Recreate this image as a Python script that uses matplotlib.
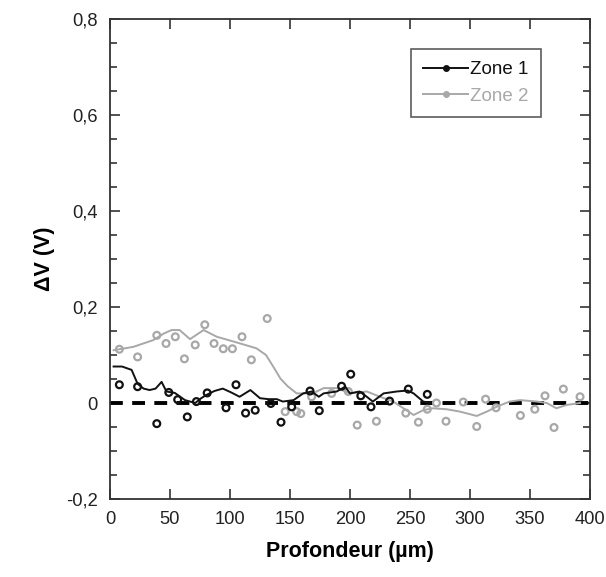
import matplotlib
matplotlib.use("Agg")
import matplotlib.pyplot as plt
from matplotlib.lines import Line2D
from matplotlib.ticker import MultipleLocator, FuncFormatter

plt.rcParams['font.family'] = ['Liberation Sans', 'DejaVu Sans']

# Smoothed curves
z1_line_x = [3, 10, 18, 23, 28, 33, 38, 43, 47, 54, 62.5, 71, 76, 80.5, 87, 94, 101, 108, 117, 125,
             132, 139, 144, 153, 161, 168, 174, 178, 189, 196, 200, 208, 214, 219, 228, 239, 248, 253, 261, 267]
z1_line_y = [0.076, 0.076, 0.069, 0.040, 0.030, 0.027, 0.030, 0.044, 0.024, 0.021, 0.006, 0.000, 0.010,
             0.017, 0.025, 0.030, 0.022, 0.013, 0.027, 0.010, 0.008, 0.008, 0.003, 0.006, 0.020, 0.024,
             0.013, 0.020, 0.024, 0.034, 0.020, 0.024, 0.013, 0.003, 0.020, 0.024, 0.026, 0.020, 0.003, 0.000]

z2_line_x = [3, 19.5, 36, 45, 51.4, 58, 66.7, 72, 78, 89, 103, 122, 130, 136, 142, 148, 155.6, 169, 178,
             189, 200, 214, 225, 236, 247, 253, 261, 269, 280.6, 291.7, 305.6, 314, 322, 333, 341.7, 355.6,
             364, 372, 380.6, 391.7]
z2_line_y = [0.110, 0.117, 0.131, 0.145, 0.152, 0.152, 0.133, 0.142, 0.152, 0.138, 0.128, 0.114, 0.100,
             0.076, 0.051, 0.035, 0.020, 0.020, 0.031, 0.031, 0.020, 0.024, 0.013, 0.003, -0.015, -0.025,
             -0.015, -0.011, -0.013, -0.018, -0.027, -0.018, -0.008, 0.003, 0.006, 0.003, 0.000, -0.011,
             -0.004, 0.000]

# Measured points
z1_pts_x = [7.8, 23, 39, 49, 56.4, 64.4, 72, 81, 96.7, 105, 113, 121, 134, 142.5, 151.4, 166.7, 174.4,
            193, 200.6, 209, 217.5, 233, 248.6, 264.4]
z1_pts_y = [0.038, 0.034, -0.043, 0.022, 0.007, -0.029, 0.003, 0.021, -0.010, 0.038, -0.021, -0.015,
            -0.001, -0.040, -0.008, 0.025, -0.016, 0.035, 0.060, 0.015, -0.008, 0.004, 0.029, 0.018]

z2_pts_x = [7.8, 23, 39, 46.7, 54.4, 62, 71, 79, 86.7, 94.4, 102, 110, 117.8, 131, 146, 155.6, 159, 168,
            184.7, 198.6, 206, 222, 246.5, 257, 264.4, 272, 280, 294.4, 305.6, 313, 321.7, 342, 354,
            362.5, 370, 377.8, 391.7]
z2_pts_y = [0.112, 0.096, 0.141, 0.124, 0.138, 0.092, 0.121, 0.163, 0.124, 0.113, 0.113, 0.138, 0.090,
            0.176, -0.018, -0.018, -0.022, 0.013, 0.020, 0.024, -0.046, -0.038, -0.021, -0.040, -0.013,
            0.000, -0.038, 0.002, -0.049, 0.008, -0.010, -0.026, -0.013, 0.015, -0.051, 0.029, 0.013]

series_labels = ["Zone 1", "Zone 2"]
x_ticks = [0, 50, 100, 150, 200, 250, 300, 350, 400]
y_ticks = [-0.2, 0, 0.2, 0.4, 0.6, 0.8]

black = "#111111"
gray = "#a8a8a8"

fig = plt.figure(figsize=(6.06, 5.77), dpi=100)
ax = fig.add_axes([110/606, 1-499/577, 480/606, 480/577])

ax.plot([0, 400], [0, 0], color="black", lw=2.8, dashes=(3.3, 2.4), zorder=2)

ax.plot(z2_line_x, z2_line_y, color=gray, lw=1.4, zorder=3)
ax.plot(z1_line_x, z1_line_y, color=black, lw=1.4, zorder=4)
ax.scatter(z2_pts_x, z2_pts_y, s=24, facecolors="none", edgecolors=gray, linewidths=1.6, zorder=3)
ax.scatter(z1_pts_x, z1_pts_y, s=24, facecolors="none", edgecolors=black, linewidths=1.6, zorder=5)

ax.set_xlim(0, 400)
ax.set_ylim(-0.2, 0.8)
ax.set_xticks(x_ticks)
ax.set_yticks(y_ticks)
ax.yaxis.set_minor_locator(MultipleLocator(0.05))

def fmt(v, pos):
    if abs(v) < 1e-9:
        return "0"
    return ("%.1f" % v).replace(".", ",")

ax.yaxis.set_major_formatter(FuncFormatter(fmt))
ax.tick_params(which="both", direction="in", top=True, right=True, colors="#333333",
               labelcolor="#222222", width=1.2)
ax.tick_params(which="major", length=7, labelsize=13.2, pad=9)
ax.tick_params(which="minor", length=5)
for s in ax.spines.values():
    s.set_linewidth(1.3)
    s.set_color("#333333")

ax.set_xlabel("Profondeur (µm)", fontsize=15.5, fontweight="bold", labelpad=9)
ax.set_ylabel("ΔV (V)", fontsize=15.5, fontweight="bold", labelpad=8)

handles = [Line2D([0], [0], color=black, lw=1.4, marker="o", markersize=4),
           Line2D([0], [0], color=gray, lw=1.4, marker="o", markersize=4)]
leg = ax.legend(handles, series_labels, loc="upper right", bbox_to_anchor=(0.898, 0.9375),
                borderaxespad=0, fontsize=13.5, frameon=True, fancybox=False, handlelength=2.4,
                handletextpad=0.1, borderpad=0.65, labelspacing=0.5)
leg.get_frame().set_edgecolor("#333333")
leg.get_frame().set_linewidth(1.2)
for t, c in zip(leg.get_texts(), [black, gray]):
    t.set_color(c)

fig.savefig("out.png", dpi=100)
